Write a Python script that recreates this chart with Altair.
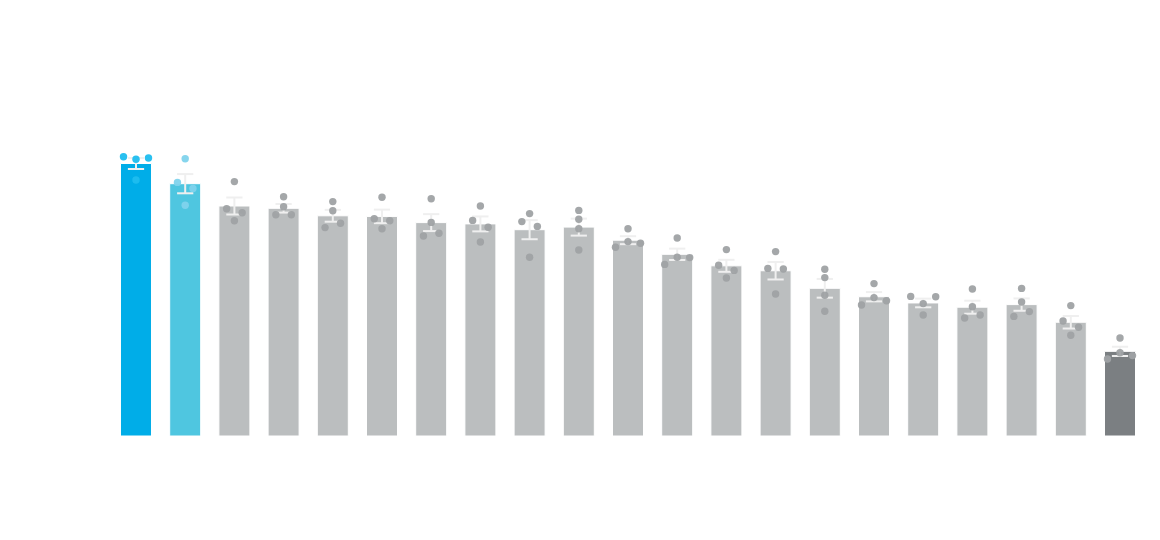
import altair as alt
import pandas as pd

# group labels (not displayed in the reference) and group kinds
groups = [f"G{i+1}" for i in range(21)]
kinds = ["first", "second"] + ["other"] * 18 + ["last"]

# replicate values per group (4 each)
dot_values = [
    [69.8, 69.2, 69.5, 64.0],
    [69.3, 63.4, 61.9, 57.7],
    [63.6, 56.8, 55.8, 53.8],
    [59.8, 57.3, 55.3, 55.3],
    [58.6, 56.3, 52.1, 53.2],
    [59.7, 54.3, 53.8, 51.8],
    [59.3, 53.4, 50.0, 50.7],
    [57.5, 53.9, 52.2, 48.5],
    [55.6, 53.6, 52.4, 44.7],
    [56.4, 54.2, 51.8, 46.5],
    [51.8, 47.2, 48.6, 48.2],
    [49.5, 42.9, 44.7, 44.6],
    [46.6, 42.7, 41.4, 39.5],
    [46.1, 41.9, 41.75, 35.5],
    [41.7, 39.6, 35.2, 31.2],
    [38.1, 32.75, 34.6, 33.8],
    [34.9, 34.8, 33.1, 30.25],
    [36.75, 32.3, 29.5, 30.25],
    [36.9, 33.5, 29.9, 31.1],
    [32.6, 28.75, 27.2, 25.2],
    [24.5, 20.8, 19.25, 20.1],
]
# swarm offset of each replicate (1 = wide slot, 0.62 = pair slot, 0 = centre)
N = 0.62
dot_slots = [
    [-1, 0, 1, 0],
    [0, -N, N, 0],
    [0, -N, N, 0],
    [0, 0, -N, N],
    [0, 0, -N, N],
    [0, -N, N, 0],
    [0, 0, -N, N],
    [0, -N, N, 0],
    [0, -N, N, 0],
    [0, 0, 0, 0],
    [0, -1, 0, 1],
    [0, -1, 0, 1],
    [0, -N, N, 0],
    [0, -N, N, 0],
    [0, 0, 0, 0],
    [0, -1, 0, 1],
    [-1, 1, 0, 0],
    [0, 0, -N, N],
    [0, 0, -N, N],
    [0, -N, N, 0],
    [0, 0, -1, 1],
]

bar_kinds = ["first", "second", "other", "last"]
bar_colors = ["#00ade8", "#4fc6e0", "#bbbebf", "#7b7f82"]
dot_kinds = ["first", "second", "other", "last"]
dot_colors = ["#1dbdef", "#7fd3ec", "#9fa2a4", "#9fa2a4"]

rows = []
for i, (g, k) in enumerate(zip(groups, kinds)):
    for v, s in zip(dot_values[i], dot_slots[i]):
        rows.append({"idx": i, "group": g, "kind": k, "value": v, "slot": s})
df = pd.DataFrame(rows)

xscale = alt.Scale(domain=[-0.63, 20.63], nice=False, zero=False, padding=0)
yscale = alt.Scale(domain=[0, 100], nice=False, padding=0)

base = alt.Chart(df)

bars = base.mark_bar(size=31, stroke="white", strokeWidth=1).encode(
    x=alt.X("idx:Q", scale=xscale,
            axis=alt.Axis(labels=False, ticks=False, grid=False, title=None,
                          domainColor="#f1f1f1", domainWidth=1, offset=3)),
    y=alt.Y("mean(value):Q", scale=yscale, axis=None),
    color=alt.Color("kind:N", scale=alt.Scale(domain=bar_kinds, range=bar_colors), legend=None),
    detail="group:N",
)

err = base.transform_aggregate(
    m="mean(value)", se="stderr(value)", groupby=["idx"]
).transform_calculate(
    lo="datum.m - datum.se", hi="datum.m + datum.se",
    xl="datum.idx - 0.165", xr="datum.idx + 0.165",
)

err_color = "#efefef"
err_line = err.mark_rule(color=err_color, strokeWidth=2).encode(
    x=alt.X("idx:Q", scale=xscale), y=alt.Y("lo:Q", scale=yscale), y2="hi:Q"
)
cap_lo = err.mark_rule(color=err_color, strokeWidth=2).encode(
    x=alt.X("xl:Q", scale=xscale), x2="xr:Q", y=alt.Y("lo:Q", scale=yscale)
)
cap_hi = err.mark_rule(color=err_color, strokeWidth=2).encode(
    x=alt.X("xl:Q", scale=xscale), x2="xr:Q", y=alt.Y("hi:Q", scale=yscale)
)

dots = base.transform_calculate(
    xpos="datum.idx + datum.slot * 0.254"
).mark_circle(size=55, opacity=0.95).encode(
    x=alt.X("xpos:Q", scale=xscale),
    y=alt.Y("value:Q", scale=yscale),
    color=alt.Color("kind:N", scale=alt.Scale(domain=dot_kinds, range=dot_colors), legend=None),
)

chart = alt.layer(bars, err_line, cap_lo, cap_hi, dots).resolve_scale(
    color="independent"
).properties(
    width=1046, height=400,
    autosize=alt.AutoSizeParams(type="none"),
    padding={"left": 97, "top": 28, "right": 0, "bottom": 0},
    background="white",
).configure_view(stroke=None)

chart.save("out.html", embed_options={"renderer": "svg", "actions": False})
